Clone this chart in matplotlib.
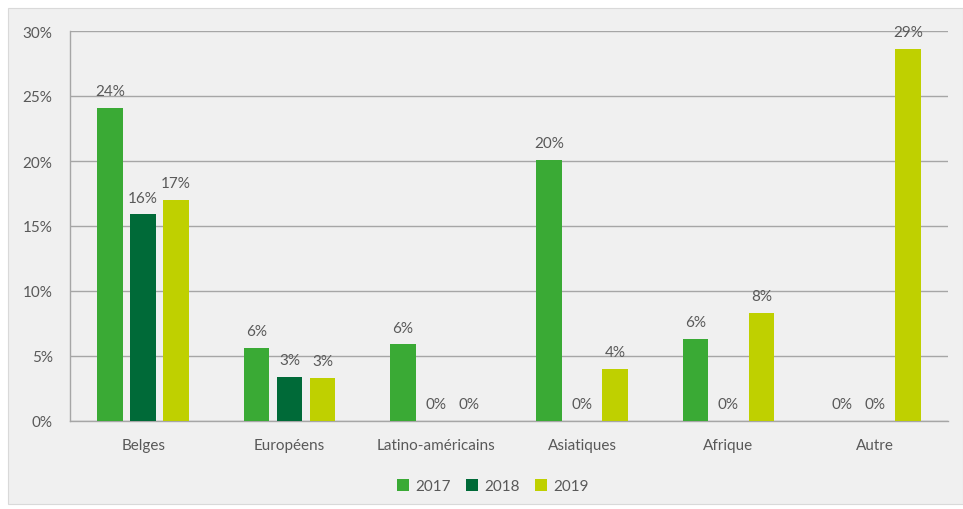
import matplotlib
matplotlib.use("Agg")
import matplotlib.pyplot as plt
from matplotlib.patches import Rectangle
import numpy as np

categories = ["Belges", "Européens", "Latino-américains", "Asiatiques", "Afrique", "Autre"]
series_names = ["2017", "2018", "2019"]
v2017 = [24.1, 5.6, 5.9, 20.1, 6.3, 0.0]
v2018 = [15.9, 3.4, 0.0, 0.0, 0.0, 0.0]
v2019 = [17.0, 3.3, 0.0, 4.0, 8.3, 28.6]
labels2017 = ["24%", "6%", "6%", "20%", "6%", "0%"]
labels2018 = ["16%", "3%", "0%", "0%", "0%", "0%"]
labels2019 = ["17%", "3%", "0%", "4%", "8%", "29%"]
colors = ["#3aaa35", "#006a38", "#bfd000"]

plt.rcParams['font.family'] = ['Lato', 'DejaVu Sans']
txt = "#595959"
fs = 11
fig = plt.figure(figsize=(9.63, 5.10), dpi=100)
fig.patch.set_facecolor("white")
fig.patches.append(Rectangle((8/963, 5/510), 955/963, 496/510, transform=fig.transFigure,
                             facecolor="#f0f0f0", edgecolor="#d9d9d9", lw=0.8, zorder=-10))

ax = fig.add_axes([70/963, 1-422/510, 878/963, (422-32)/510])
ax.set_zorder(1)
ax.set_facecolor("#f0f0f0")
x = np.arange(len(categories))
w = 0.175
step = 0.2255
allv = [v2017, v2018, v2019]
alll = [labels2017, labels2018, labels2019]
for i, (vals, labs) in enumerate(zip(allv, alll)):
    pos = x + (i - 1) * step
    ax.bar(pos, vals, width=w, color=colors[i], label=series_names[i], zorder=3)
    for p, v, l in zip(pos, vals, labs):
        ax.annotate(l, (p, v), xytext=(0, 7), textcoords="offset points",
                    ha="center", va="bottom", fontsize=fs, color=txt, zorder=4)

ax.set_xlim(-0.5, len(categories) - 0.5)
ax.set_ylim(0, 30)
ax.set_yticks(np.arange(0, 31, 5))
ax.set_yticklabels([f"{t}%" for t in range(0, 31, 5)])
ax.set_xticks(x)
ax.set_xticklabels(categories)
ax.tick_params(axis="both", length=0, labelsize=fs, labelcolor=txt)
ax.tick_params(axis="y", pad=12.5)
ax.tick_params(axis="x", pad=12)
ax.grid(axis="y", color="#a6a6a6", lw=1, zorder=0)
ax.set_axisbelow(True)
for s in ["top", "right"]:
    ax.spines[s].set_visible(False)
for s in ["left", "bottom"]:
    ax.spines[s].set_color("#a6a6a6")
    ax.spines[s].set_linewidth(1)

leg = fig.legend(loc="center", bbox_to_anchor=(493/963, 1-487/510), ncol=3, frameon=False,
                 fontsize=fs, handlelength=0.8, handleheight=0.8, columnspacing=1.0,
                 handletextpad=0.4)
for t in leg.get_texts():
    t.set_color(txt)

fig.savefig("out.png", dpi=100, facecolor=fig.get_facecolor())
